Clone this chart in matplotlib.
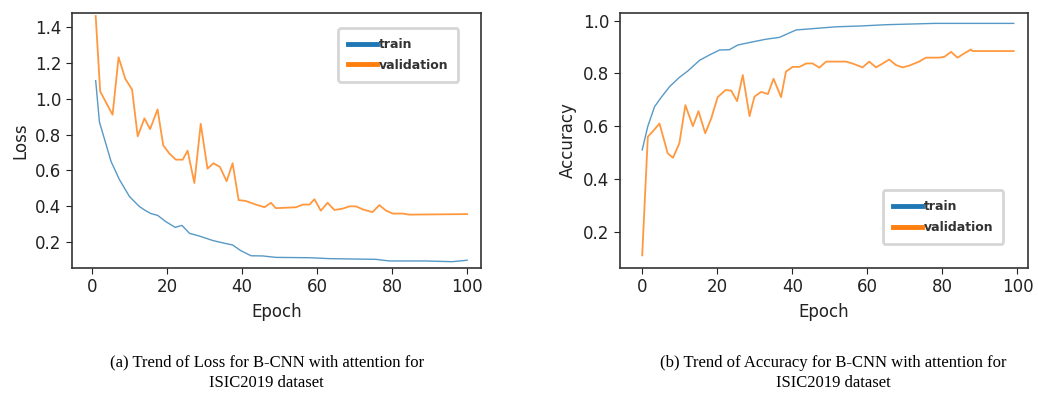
import matplotlib
matplotlib.use('Agg')
import matplotlib.pyplot as plt

# loss curves (epoch, value)
loss_train_ep = [1, 2, 5.1, 7.3, 10, 12.6, 14, 15.7, 17.5, 19.7, 22.2, 24, 26, 28.6, 32.2, 34.8,
                 37.5, 39.7, 42.4, 45.5, 49, 58, 63.3, 75.7, 79.3, 89, 96, 100]
loss_train = [1.10, 0.87, 0.65, 0.55, 0.455, 0.40, 0.38, 0.36, 0.35, 0.315, 0.283, 0.294, 0.25,
              0.235, 0.21, 0.197, 0.185, 0.153, 0.125, 0.124, 0.116, 0.114, 0.109, 0.105, 0.096,
              0.096, 0.092, 0.10]
loss_val_ep = [1, 2.2, 5.5, 7.1, 8.9, 10.7, 12.2, 14, 15.5, 17.5, 19, 20.6, 22.4, 24.2, 25.5,
               27.3, 29, 30.8, 32.4, 34.1, 35.9, 37.5, 39.1, 41, 43.7, 46, 47.7, 49, 54.4, 56.2,
               58, 59.3, 61, 62.8, 64.6, 66.8, 68.6, 70.4, 72.2, 74.8, 76.6, 78.4, 80.2, 82.8,
               84.6, 100]
loss_val = [1.46, 1.04, 0.91, 1.23, 1.11, 1.05, 0.79, 0.89, 0.83, 0.94, 0.74, 0.695, 0.66, 0.66,
            0.71, 0.53, 0.86, 0.61, 0.64, 0.62, 0.54, 0.64, 0.435, 0.43, 0.41, 0.395, 0.42, 0.39,
            0.395, 0.41, 0.41, 0.44, 0.376, 0.42, 0.38, 0.387, 0.40, 0.40, 0.383, 0.368, 0.407,
            0.376, 0.36, 0.36, 0.354, 0.357]

# accuracy curves
acc_train_ep = [0, 1.5, 3.3, 5.1, 7.3, 9.9, 12.2, 15.3, 17.9, 20.6, 23.2, 25.5, 29.5, 33, 36.6,
                38.3, 41, 45.4, 51.6, 58, 65, 78, 99]
acc_train = [0.51, 0.60, 0.674, 0.71, 0.75, 0.785, 0.81, 0.85, 0.87, 0.889, 0.89, 0.908, 0.92,
             0.93, 0.937, 0.948, 0.965, 0.97, 0.977, 0.98, 0.985, 0.99, 0.99]
acc_val_ep = [0, 1.5, 2.8, 4.6, 6.8, 8.2, 9.9, 11.5, 13.5, 15, 16.8, 18.4, 20.1, 22.2, 23.7, 25.3,
              26.8, 28.6, 29.9, 31.7, 33.5, 35, 37, 38.3, 40.1, 41.9, 43.7, 45.4, 47.2, 49, 54.3,
              56, 58.7, 60.5, 62.3, 64.1, 65.8, 67.6, 69.4, 71.2, 73.8, 75.6, 79.1, 80.5, 82.3,
              84, 85.8, 87.6, 88, 99]
acc_val = [0.11, 0.56, 0.58, 0.61, 0.497, 0.48, 0.535, 0.68, 0.60, 0.657, 0.573, 0.63, 0.71,
           0.737, 0.735, 0.695, 0.794, 0.638, 0.712, 0.73, 0.722, 0.78, 0.71, 0.807, 0.825, 0.825,
           0.838, 0.838, 0.822, 0.845, 0.845, 0.838, 0.823, 0.845, 0.823, 0.838, 0.853, 0.832,
           0.823, 0.83, 0.845, 0.86, 0.86, 0.863, 0.882, 0.86, 0.876, 0.891, 0.885, 0.885]

captions = ["(a) Trend of Loss for B-CNN with attention for\nISIC2019 dataset",
            "(b) Trend of Accuracy for B-CNN with attention for\nISIC2019 dataset"]

plt.rcParams['font.family'] = 'DejaVu Sans'
fig = plt.figure(figsize=(10.38, 3.97), dpi=100)
ax1 = fig.add_axes([0.0694, 0.325, 0.394, 0.642])
ax2 = fig.add_axes([0.597, 0.325, 0.393, 0.642])

blue = '#1f77b4'
orange = '#ff7f0e'

ax1.plot(loss_train_ep, loss_train, color=blue, lw=1.0, alpha=0.75, label='train')
ax1.plot(loss_val_ep, loss_val, color=orange, lw=1.3, alpha=0.8, label='validation')
ax1.set_xlim(-5.3, 103.7)
ax1.set_ylim(0.057, 1.476)
ax1.set_yticks([0.2, 0.4, 0.6, 0.8, 1.0, 1.2, 1.4])
ax1.set_ylabel('Loss', fontsize=12, color='#222222', labelpad=4)

ax2.plot(acc_train_ep, acc_train, color=blue, lw=1.0, alpha=0.75, label='train')
ax2.plot(acc_val_ep, acc_val, color=orange, lw=1.3, alpha=0.8, label='validation')
ax2.set_xlim(-6.0, 102.7)
ax2.set_ylim(0.062, 1.029)
ax2.set_yticks([0.2, 0.4, 0.6, 0.8, 1.0])
ax2.set_ylabel('Accuracy', fontsize=12, color='#222222', labelpad=4)

for ax in (ax1, ax2):
    ax.set_xticks([0, 20, 40, 60, 80, 100])
    ax.set_xlabel('Epoch', fontsize=12, color='#222222', labelpad=5)
    ax.tick_params(labelsize=12, colors='#222222', length=4)
    for s in ax.spines.values():
        s.set_color('#333333')
        s.set_linewidth(1.2)

leg_kw = dict(frameon=True, fancybox=True, handlelength=2.3, handletextpad=0.15,
              borderpad=0.8, labelspacing=0.6, prop={'weight': 'bold', 'size': 9})
l1 = ax1.legend(loc='upper right', bbox_to_anchor=(0.96, 0.965), **leg_kw)
l2 = ax2.legend(loc='lower right', bbox_to_anchor=(0.955, 0.07), **leg_kw)
for leg in (l1, l2):
    leg.get_frame().set_edgecolor('#cccccc')
    leg.get_frame().set_linewidth(2)
    for line in leg.get_lines():
        line.set_linewidth(3.5)
        line.set_alpha(1)
    for t in leg.get_texts():
        t.set_color('#333333')

fig.text(0.257, 0.015, captions[0], ha='center', va='bottom', fontsize=12,
         family='Liberation Serif', linespacing=1.35)
fig.text(0.803, 0.015, captions[1], ha='center', va='bottom', fontsize=12,
         family='Liberation Serif', linespacing=1.35)

fig.savefig('out.png', dpi=100)
